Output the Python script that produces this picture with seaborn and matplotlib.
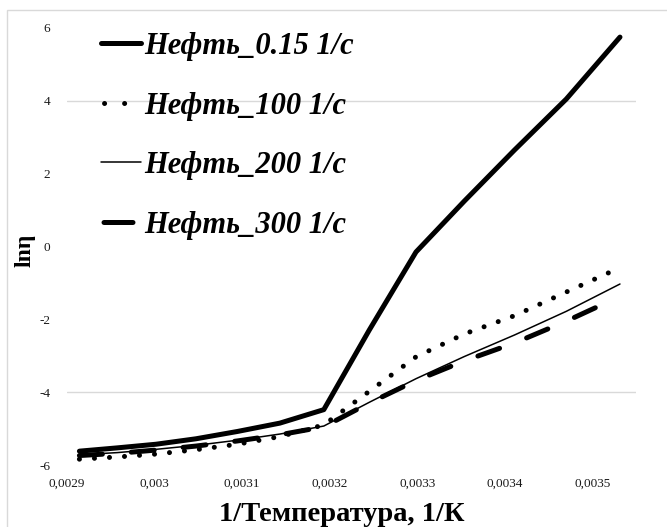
import numpy as np
import pandas as pd
import matplotlib
matplotlib.use("Agg")
import matplotlib.pyplot as plt
import seaborn as sns
from matplotlib.patches import Rectangle

# ---- data ----
temps_c = [70, 65, 60, 55, 50, 45, 40, 35, 30, 25, 20, 15, 10]
inv_T = [1.0 / (t + 273.15) for t in temps_c]

ln_eta_015 = [-5.62, -5.53, -5.43, -5.28, -5.08, -4.85, -4.48, -2.30, -0.15, 1.25, 2.65, 4.05, 5.75]
ln_eta_100 = [-5.84, -5.78, -5.70, -5.58, -5.43, -5.22, -4.90, -3.98, -3.03, -2.40, -1.90, -1.25, -0.58]
ln_eta_200 = [-5.72, -5.66, -5.57, -5.46, -5.32, -5.15, -4.93, -4.28, -3.63, -3.02, -2.43, -1.78, -1.03]
ln_eta_300 = [-5.74, -5.68, -5.59, -5.48, -5.34, -5.17, -4.95, -4.30, -3.68, -3.14, -2.65, -2.05, -1.37]

labels = ["Нефть_0.15 1/с", "Нефть_100 1/с", "Нефть_200 1/с", "Нефть_300 1/с"]
series = [ln_eta_015, ln_eta_100, ln_eta_200, ln_eta_300]

x_ticks = [0.0029, 0.0030, 0.0031, 0.0032, 0.0033, 0.0034, 0.0035]
x_tick_labels = ["0,0029", "0,003", "0,0031", "0,0032", "0,0033", "0,0034", "0,0035"]
y_ticks = [-6, -4, -2, 0, 2, 4, 6]
y_tick_labels = ["-6", "-4", "-2", "0", "2", "4", "6"]
grid_levels = [4, -4]

# ---- plot ----
sns.set_theme(style="white")
plt.rcParams['font.family'] = ['Liberation Serif', 'DejaVu Serif']

W, H = 667, 527
fig = plt.figure(figsize=(W / 100, H / 100), dpi=100)
ax = fig.add_axes([67 / W, 1 - 465 / H, (636 - 67) / W, (465 - 28) / H])

for g in grid_levels:
    ax.axhline(g, color='#d9d9d9', lw=1.0, zorder=0)

styles = [
    dict(lw=3.6, ls='-', leg_ls='-'),
    dict(lw=3.6, ls=(0, (0.01, 3.0)), leg_ls=(3.4, (0.01, 4.0))),
    dict(lw=1.1, ls='-', leg_ls='-'),
    dict(lw=3.6, ls=(0, (4.6, 5.8)), leg_ls=(-0.5, (5.8, 10.0))),
]

for vals, lab, st in zip(series, labels, styles):
    df = pd.DataFrame({"x": inv_T, "y": vals})
    sns.lineplot(data=df, x="x", y="y", ax=ax, color='black', label=lab,
                 linewidth=st['lw'], sort=True)
    ln = ax.lines[-1]
    ln.set_linestyle(st['ls'])
    ln.set_dash_capstyle('round')
    ln.set_solid_capstyle('round')
    ln.set_solid_joinstyle('round')

ax.set_xlim(0.0029, 0.00355)
ax.set_ylim(-6, 6)
ax.set_xticks(x_ticks)
ax.set_xticklabels(x_tick_labels)
ax.set_yticks(y_ticks)
ax.set_yticklabels(y_tick_labels)
ax.tick_params(axis='both', length=0, labelsize=9.5, colors='#1a1a1a')
ax.tick_params(axis='x', pad=9)
ax.tick_params(axis='y', pad=12)
for s in ax.spines.values():
    s.set_visible(False)
ax.set_facecolor('white')

ax.set_xlabel("1/Температура, 1/К", fontsize=20.5, fontweight='bold', color='black')
ax.xaxis.set_label_coords((342 - 67) / 569, -0.085)
ax.set_ylabel("lnη", fontsize=17, fontweight='bold', color='black')
ax.yaxis.set_label_coords(-(67 - 36) / 569, 0.49)

leg = ax.legend(loc='upper left', bbox_to_anchor=(101 / W, 1 - 32 / H),
                bbox_transform=fig.transFigure, frameon=False,
                prop=dict(family='Liberation Serif', weight='bold', style='italic', size=22),
                handlelength=1.3, handletextpad=0.12, labelspacing=1.0,
                borderpad=0, borderaxespad=0, labelcolor='black')
for h, st in zip(leg.get_lines(), styles):
    h.set_linestyle(st['leg_ls'])
    h.set_dash_capstyle('round')
    h.set_solid_capstyle('round')

fig.add_artist(Rectangle((7 / W, -0.5), 2.0, (1 - 10 / H) + 0.5, transform=fig.transFigure,
                         fill=False, edgecolor='#d9d9d9', lw=1.0))

fig.savefig("out.png", dpi=100, facecolor='white')
